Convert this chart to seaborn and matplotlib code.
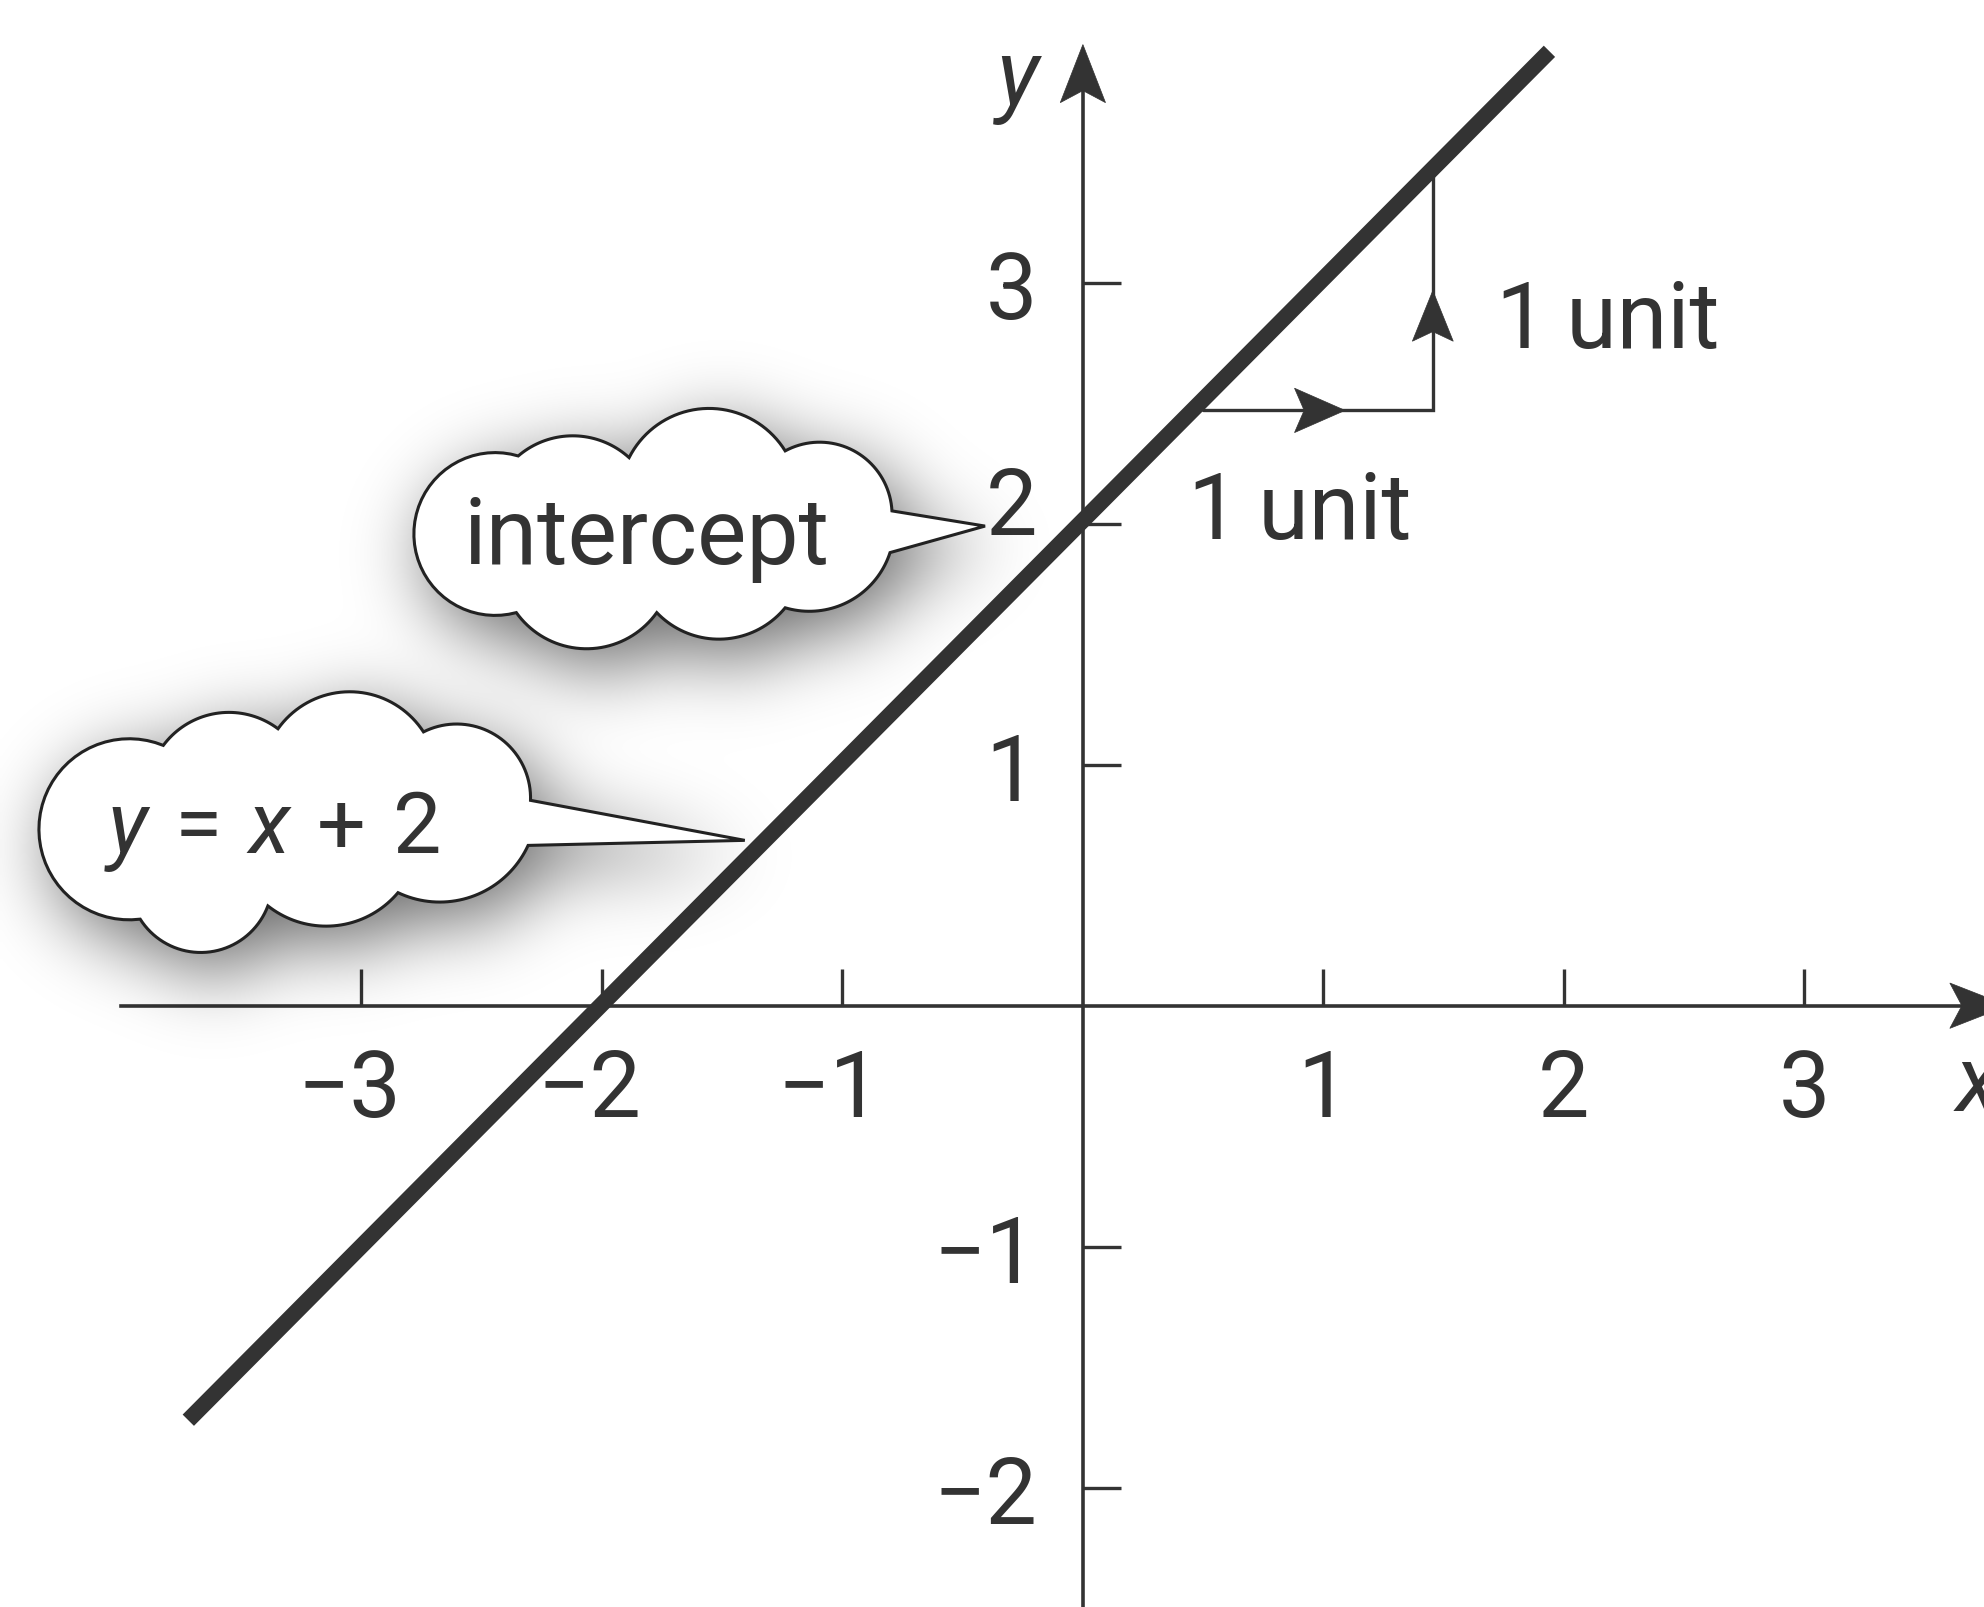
import numpy as np
import pandas as pd
import matplotlib
matplotlib.use("Agg")
import matplotlib.pyplot as plt
import matplotlib.transforms as mtransforms
from matplotlib.path import Path
from matplotlib.patches import Polygon
import seaborn as sns

# the line y = x + 2, ends
line_x = [-3.72, 1.94]
line_y = [-1.72, 3.96]

x_ticks = [-3, -2, -1, 1, 2, 3]
x_tick_labels = ["\u22123", "\u22122", "\u22121", "1", "2", "3"]
y_ticks = [-2, -1, 1, 2, 3]
y_tick_labels = ["\u22122", "\u22121", "1", "2", "3"]

# rise / run triangle
run_x = [0.50, 1.455]
run_y = 2.47
rise_top = 3.45

# callout clouds: corner points and bulge of each edge (0 = straight)
intercept_pts = [(-2.348, 2.281), (-1.887, 2.274), (-1.238, 2.302), (-0.794, 2.053),
                 (-0.407, 1.990), (-0.802, 1.880), (-1.238, 1.651), (-1.772, 1.631),
                 (-2.356, 1.631)]
intercept_sag = [0.087, 0.19, 0.14, 0, 0, 0.10, 0.12, 0.15, 0.43]
eq_pts = [(-3.824, 1.080), (-3.347, 1.149), (-2.742, 1.136), (-2.297, 0.852),
          (-1.406, 0.686), (-2.307, 0.665), (-2.848, 0.469), (-3.389, 0.414),
          (-3.920, 0.359)]
eq_sag = [0.10, 0.16, 0.15, 0, 0, 0.12, 0.11, 0.165, 0.47]

XLIM = (-4.503, 3.747)
YLIM = (-2.495, 4.177)
INK = "#333333"

sns.set_theme(style="white")
plt.rcParams["font.family"] = ["Roboto", "DejaVu Sans"]
plt.rcParams["mathtext.fontset"] = "custom"
plt.rcParams["mathtext.rm"] = "Roboto"
plt.rcParams["mathtext.it"] = "Roboto:italic"


def cloud_outline(pts, sags):
    pts = np.asarray(pts, float)
    cen = pts.mean(axis=0)
    out = []
    n = len(pts)
    for i in range(n):
        p1, p2 = pts[i], pts[(i + 1) % n]
        s = sags[i]
        if s == 0:
            out.append(p1)
            continue
        mid = (p1 + p2) / 2
        d = p2 - p1
        c = np.hypot(*d)
        nrm = np.array([d[1], -d[0]]) / c
        if np.dot(nrm, mid - cen) < 0:
            nrm = -nrm
        R = (c * c / 4 + s * s) / (2 * s)
        apex = mid + nrm * s
        C = apex - nrm * R
        a1 = np.arctan2(*(p1 - C)[::-1])
        a2 = np.arctan2(*(p2 - C)[::-1])
        aa = np.arctan2(*(apex - C)[::-1])
        span = (a2 - a1) % (2 * np.pi)
        if (aa - a1) % (2 * np.pi) < span:
            ang = a1 + np.linspace(0, span, 40)
        else:
            ang = a1 - np.linspace(0, 2 * np.pi - span, 40)
        out.extend(np.column_stack([C[0] + R * np.cos(ang), C[1] + R * np.sin(ang)])[:-1])
    return np.array(out)


def arrow_head(ax, tip, direction, length, half, notch):
    tip = np.asarray(tip, float)
    d = np.asarray(direction, float)
    p = np.array([-d[1], d[0]])
    back = tip - d * length
    verts = [tip, back + p * half, tip - d * (length - notch), back - p * half]
    ax.add_patch(Polygon(verts, closed=True, facecolor=INK, edgecolor=INK, lw=0.5, zorder=6))


fig = plt.figure(figsize=(19.84, 16.08), dpi=100)
ax = fig.add_axes([0, 0, 1, 1])

df = pd.DataFrame({"x": line_x, "y": line_y})
sns.lineplot(data=df, x="x", y="y", ax=ax, color=INK, linewidth=11.5,
             solid_capstyle="butt", zorder=3)
ax.set_xlabel("")
ax.set_ylabel("")

# axes through the origin
for s in ["top", "right"]:
    ax.spines[s].set_visible(False)
for s in ["bottom", "left"]:
    ax.spines[s].set_position(("data", 0))
    ax.spines[s].set_color(INK)
    ax.spines[s].set_linewidth(2.6)
ax.spines["bottom"].set_bounds(-4.0, 3.7)
ax.spines["left"].set_bounds(YLIM[0], 3.9)
ax.set_xticks(x_ticks, x_tick_labels)
ax.set_yticks(y_ticks, y_tick_labels)
ax.tick_params(axis="x", bottom=True, direction="in", length=27, width=2.4,
               color=INK, labelcolor=INK, labelsize=66, pad=29)
ax.tick_params(axis="y", left=True, direction="in", length=27, width=2.4,
               color=INK, labelcolor=INK, labelsize=66, pad=33)

for lab, v in zip(ax.get_xticklabels(), x_ticks):
    if v < 0:
        lab.set_transform(lab.get_transform() +
                          mtransforms.ScaledTranslation(-9 / 72, 0, fig.dpi_scale_trans))
for lab, v in zip(ax.get_yticklabels(), y_ticks):
    if v == 2:
        lab.set_transform(lab.get_transform() +
                          mtransforms.ScaledTranslation(0, 18 / 72, fig.dpi_scale_trans))

arrow_head(ax, (3.846, 0), (1, 0), 0.241, 0.094, 0.05)
arrow_head(ax, (0, 3.988), (0, 1), 0.241, 0.094, 0.05)
ax.text(3.63, -0.33, "x", style="italic", fontsize=66, color=INK, ha="left", va="center")
ax.text(-0.27, 3.842, "y", style="italic", fontsize=66, color=INK, ha="center", va="center")

# slope triangle
ax.plot([run_x[0], run_x[1], run_x[1]], [run_y, run_y, rise_top], color=INK, lw=2.4,
        solid_joinstyle="miter", zorder=4)
arrow_head(ax, (1.09, run_y), (1, 0), 0.21, 0.092, 0.04)
arrow_head(ax, (run_x[1], 2.967), (0, 1), 0.21, 0.085, 0.04)
ax.text(1.717, 2.734, "1\u2009unit", fontsize=66, color=INK, ha="left", va="baseline")
ax.text(0.437, 1.942, "1\u2009unit", fontsize=66, color=INK, ha="left", va="baseline")

# clouds with soft drop shadow
clouds = [cloud_outline(intercept_pts, intercept_sag), cloud_outline(eq_pts, eq_sag)]
gx = np.linspace(XLIM[0], XLIM[1], 496)
gy = np.linspace(YLIM[0], YLIM[1], 402)
GX, GY = np.meshgrid(gx, gy)
grid = np.column_stack([GX.ravel(), GY.ravel()])
mask = np.zeros(GX.size)
for poly in clouds:
    mask = np.maximum(mask, Path(poly + np.array([0.05, -0.08])).contains_points(grid))
mask = mask.reshape(GX.shape)
k = np.exp(-0.5 * (np.arange(-40, 41) / 9.5) ** 2)
k /= k.sum()
blur = np.apply_along_axis(lambda r: np.convolve(r, k, mode="same"), 1, mask)
blur = np.apply_along_axis(lambda c: np.convolve(c, k, mode="same"), 0, blur)
shadow = np.zeros(GX.shape + (4,))
shadow[..., 3] = np.clip(0.6 * blur, 0, 1)
ax.imshow(shadow, extent=[XLIM[0], XLIM[1], YLIM[0], YLIM[1]], origin="lower",
          aspect="auto", interpolation="bilinear", zorder=4)

for poly in clouds:
    ax.add_patch(Polygon(poly, closed=True, facecolor="white", edgecolor="#222222",
                         lw=2.2, joinstyle="miter", zorder=5))

ax.text(-1.813, 1.838, "intercept", fontsize=67, color=INK, ha="center", va="baseline", zorder=7)
ax.text(-3.372, 0.639, r"$y\,=\,x\,+\,2$", fontsize=62, color=INK, ha="center", va="baseline", zorder=7)

ax.set_xlim(*XLIM)
ax.set_ylim(*YLIM)
ax.set_facecolor("white")
fig.savefig("out.png", dpi=100, facecolor="white")
